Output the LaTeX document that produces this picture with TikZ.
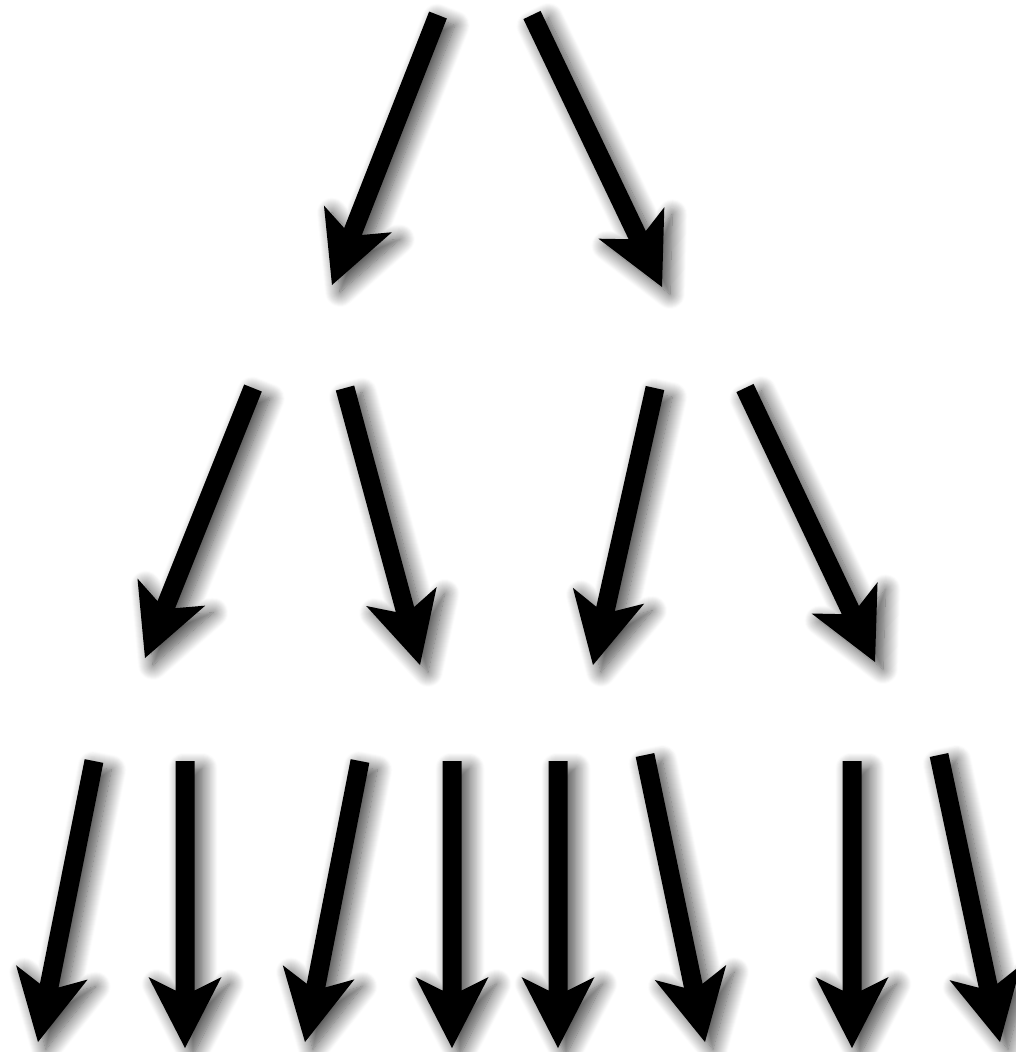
\documentclass[tikz,border=0pt]{standalone}
\usepackage{tikz}
\usetikzlibrary{calc,shadows.blur}

\tikzset{
  pointer/.style={fill=black, blur shadow={shadow xshift=0.16cm, shadow yshift=-0.14cm,
    shadow blur radius=0.3cm, shadow opacity=75, shadow blur steps=16}}
}
% arrow body from tail #1 to tip #2
\newcommand{\drawpointer}[2]{%
  \coordinate (#1n) at ($(#2)!1.15cm!(#1)$);
  \coordinate (#1b) at ($(#2)!1.42cm!(#1)$);
  \fill[pointer] ($(#1)!0.19cm!90:(#2)$) -- ($(#1n)!0.19cm!90:(#2)$)
    -- ($(#1b)!0.73cm!90:(#2)$) -- (#2) -- ($(#1b)!0.73cm!-90:(#2)$)
    -- ($(#1n)!0.19cm!-90:(#2)$) -- ($(#1)!0.19cm!-90:(#2)$) -- cycle;
}

\begin{document}
\begin{tikzpicture}[x=0.02cm, y=-0.02cm]
  \useasboundingbox (0,0) rectangle (1015,1052);
  % top row
  \coordinate (t1)  at (438,15);   \coordinate (p1)  at (332,285);
  \coordinate (t2)  at (532,15);   \coordinate (p2)  at (662,287);
  % middle row
  \coordinate (t3)  at (253,388);  \coordinate (p3)  at (145,658);
  \coordinate (t4)  at (345,388);  \coordinate (p4)  at (420,665);
  \coordinate (t5)  at (655,388);  \coordinate (p5)  at (593,665);
  \coordinate (t6)  at (745,388);  \coordinate (p6)  at (875,662);
  % bottom row
  \coordinate (t7)  at (94,761);   \coordinate (p7)  at (38,1042);
  \coordinate (t8)  at (185,761);  \coordinate (p8)  at (185,1048);
  \coordinate (t9)  at (360,761);  \coordinate (p9)  at (305,1042);
  \coordinate (t10) at (452,761);  \coordinate (p10) at (452,1048);
  \coordinate (t11) at (558,761);  \coordinate (p11) at (558,1048);
  \coordinate (t12) at (645,755);  \coordinate (p12) at (705,1042);
  \coordinate (t13) at (852,761);  \coordinate (p13) at (852,1048);
  \coordinate (t14) at (939,755);  \coordinate (p14) at (1000,1042);

  \foreach \i in {1,...,14} {\drawpointer{t\i}{p\i}}
\end{tikzpicture}
\end{document}
